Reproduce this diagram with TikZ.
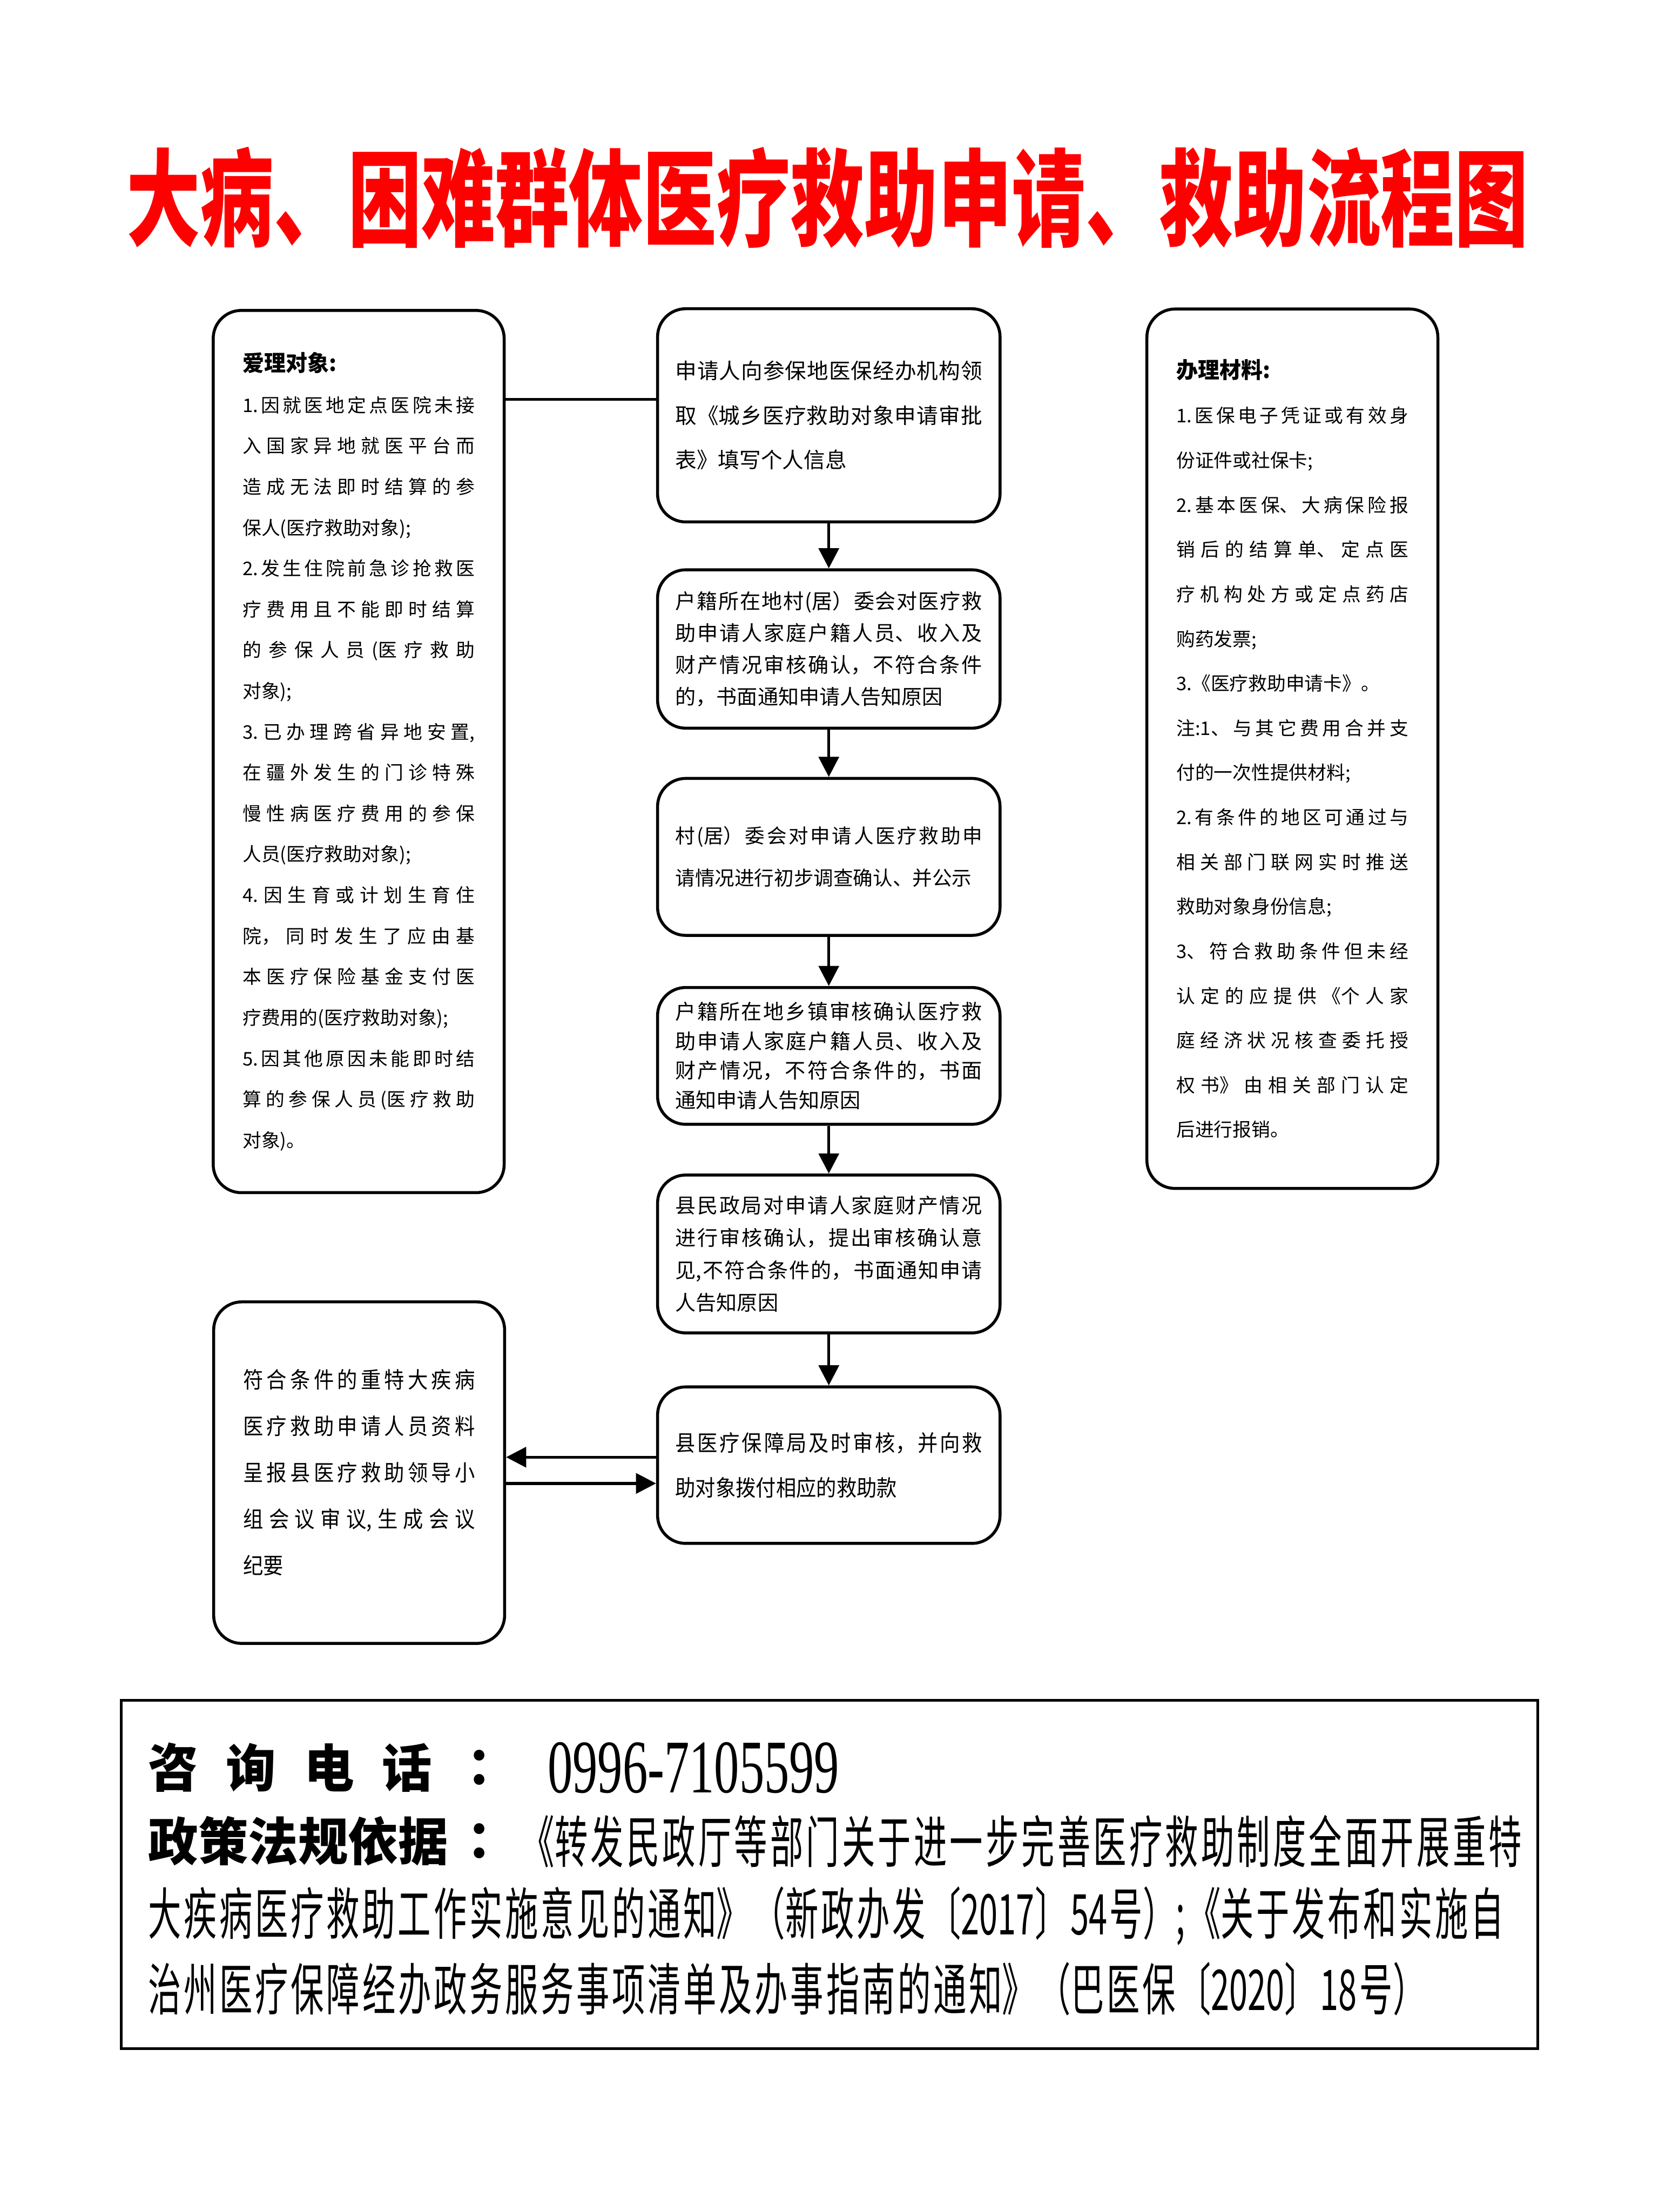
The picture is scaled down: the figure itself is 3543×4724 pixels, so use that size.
\documentclass[tikz,border=0pt]{standalone}
\usepackage{fontspec}
\usetikzlibrary{arrows.meta,calc}
\setmainfont{Noto Sans CJK SC}
\newfontfamily\narrowfont{Noto Sans CJK SC}[FakeStretch=0.9]
\newfontfamily\titlefont{Noto Sans CJK SC}[FakeStretch=0.7]
\newfontfamily\heifont{Noto Sans CJK SC}[FakeStretch=0.97]
\newfontfamily\condfont{Noto Sans CJK SC}[FakeStretch=0.59]
\newfontfamily\numfont{Liberation Serif}[FakeStretch=0.66]
\XeTeXlinebreaklocale "zh"
\XeTeXlinebreakskip=0pt plus 30pt
\setlength{\parindent}{0pt}
\setlength{\parskip}{0pt}

\tikzset{
  flowbox/.style={draw, line width=1.8pt, rounded corners=0.6cm, align=justify, inner xsep=0.38cm, inner ysep=0pt},
  sidebox/.style={flowbox, text width=4.95cm, inner xsep=0.63cm},
  midbox/.style={flowbox, text width=6.55cm, minimum height=3.36cm},
  flowarrow/.style={-{Triangle[length=0.43cm,width=0.43cm]}, line width=1.8pt},
  footline/.style={anchor=west, inner sep=0pt}
}

\begin{document}
\begin{tikzpicture}[x=0.01cm, y=-0.01cm]
        \useasboundingbox (0,0) rectangle (3543,4724);

        % Title
        \node[text=red, font=\titlefont\bfseries\fontsize{64pt}{64pt}\selectfont] (title) at (1767,422) {大病、困难群体医疗救助申请、救助流程图};

        % Side boxes
        \node[sidebox, minimum height=18.83cm, font=\fontsize{11.4pt}{24.8pt}\selectfont] (crit) at (766,1605) {{\heifont\bfseries\fontsize{13.5pt}{24.8pt}\selectfont 爱理对象:}\par
          1.因就医地定点医院未接\linebreak 入国家异地就医平台而\linebreak 造成无法即时结算的参\linebreak 保人(医疗救助对象);\par
          2.发生住院前急诊抢救医\linebreak 疗费用且不能即时结算\linebreak 的参保人员(医疗救助\linebreak 对象);\par
          3.已办理跨省异地安置,\linebreak 在疆外发生的门诊特殊\linebreak 慢性病医疗费用的参保\linebreak 人员(医疗救助对象);\par
          4.因生育或计划生育住\linebreak 院，同时发生了应由基\linebreak 本医疗保险基金支付医\linebreak 疗费用的(医疗救助对象);\par
          5.因其他原因未能即时结\linebreak 算的参保人员(医疗救助\linebreak 对象)。};

        \node[sidebox, minimum height=18.77cm, font=\fontsize{11.4pt}{27.1pt}\selectfont] (docs) at (2760,1599) {{\heifont\bfseries\fontsize{13.5pt}{27.1pt}\selectfont 办理材料:}\par
          1.医保电子凭证或有效身\linebreak 份证件或社保卡;\par
          2.基本医保、大病保险报\linebreak 销后的结算单、定点医\linebreak 疗机构处方或定点药店\linebreak 购药发票;\par
          3.《医疗救助申请卡》。\par
          注:1、与其它费用合并支\linebreak 付的一次性提供材料;\par
          2.有条件的地区可通过与\linebreak 相关部门联网实时推送\linebreak 救助对象身份信息;\par
          3、符合救助条件但未经\linebreak 认定的应提供《个人家\linebreak 庭经济状况核查委托授\linebreak 权书》由相关部门认定\linebreak 后进行报销。};

        \node[sidebox, minimum height=7.29cm, font=\narrowfont\fontsize{13.6pt}{28.2pt}\selectfont] (meeting) at (767,3145) {符合条件的重特大疾病\linebreak 医疗救助申请人员资料\linebreak 呈报县医疗救助领导小\linebreak 组会议审议,生成会议\linebreak 纪要};

        % Main column
        \node[midbox, minimum height=4.55cm, font=\fontsize{13pt}{27pt}\selectfont] (apply) at (1770,887) {申请人向参保地医保经办机构领\linebreak 取《城乡医疗救助对象申请审批\linebreak 表》填写个人信息};
        \node[midbox, minimum height=3.38cm, font=\fontsize{12.5pt}{19.3pt}\selectfont] (village) at (1770,1386) {户籍所在地村(居）委会对医疗救\linebreak 助申请人家庭户籍人员、收入及\linebreak 财产情况审核确认，不符合条件\linebreak 的，书面通知申请人告知原因};
        \node[midbox, minimum height=3.35cm, font=\fontsize{12pt}{25.6pt}\selectfont] (notice) at (1770,1830) {村(居）委会对申请人医疗救助申\linebreak 请情况进行初步调查确认、并公示};
        \node[midbox, minimum height=2.92cm, font=\fontsize{12.5pt}{17.9pt}\selectfont] (town) at (1770,2255) {户籍所在地乡镇审核确认医疗救\linebreak 助申请人家庭户籍人员、收入及\linebreak 财产情况，不符合条件的，书面\linebreak 通知申请人告知原因};
        \node[midbox, minimum height=3.37cm, font=\fontsize{12.5pt}{19.6pt}\selectfont] (civil) at (1770,2678) {县民政局对申请人家庭财产情况\linebreak 进行审核确认，提出审核确认意\linebreak 见,不符合条件的，书面通知申请\linebreak 人告知原因};
        \node[midbox, minimum height=3.34cm, font=\narrowfont\fontsize{13.6pt}{27.3pt}\selectfont] (bureau) at (1770,3129) {县医疗保障局及时审核，并向救\linebreak 助对象拨付相应的救助款};

        % Connectors
        \coordinate (tie) at (0,853);
        \coordinate (backrow) at (0,3112);
        \coordinate (fwdrow) at (0,3168);
        \draw[line width=1.8pt] (crit.east |- tie) -- (apply.west |- tie);
        \draw[flowarrow] (apply) -- (village);
        \draw[flowarrow] (village) -- (notice);
        \draw[flowarrow] (notice) -- (town);
        \draw[flowarrow] (town) -- (civil);
        \draw[flowarrow] (civil) -- (bureau);
        \draw[flowarrow] (bureau.west |- backrow) -- (meeting.east |- backrow);
        \draw[flowarrow] (meeting.east |- fwdrow) -- (bureau.west |- fwdrow);

        % Footer
        \draw[line width=1.8pt] (259,3631) rectangle (3284,4375);
        \node[footline, font=\heifont\bfseries\fontsize{31.3pt}{31.3pt}\selectfont] (phonelabel) at (316,3775) {咨\hspace{17pt}询\hspace{17pt}电\hspace{17pt}话};
        \node[inner sep=0pt, font=\heifont\bfseries\fontsize{31.3pt}{31.3pt}\selectfont] (phonecolon) at (1050,3775) {：};
        \node[footline, font=\numfont\fontsize{46pt}{46pt}\selectfont] (phone) at (1169,3775) {0996-7105599};
        \node[footline, font=\heifont\bfseries\fontsize{31.3pt}{31.3pt}\selectfont] (lawlabel) at (316,3932) {政策法规依据};
        \node[inner sep=0pt, font=\heifont\bfseries\fontsize{31.3pt}{31.3pt}\selectfont] (lawcolon) at (1050,3932) {：};
        \node[footline, text width=21.35cm, align=justify, font=\condfont\fontsize{34.1pt}{34.1pt}\selectfont] (law1) at (1113,3932) {\parfillskip=0pt 《转发民政厅等部门关于进一步完善医疗救助制度全面开展重特\par};
        \node[footline, text width=28.93cm, align=justify, font=\condfont\fontsize{34.1pt}{34.1pt}\selectfont] (law2) at (316,4092) {\parfillskip=0pt 大疾病医疗救助工作实施意见的通知》（新政办发〔2017〕54号）;《关于发布和实施自\par};
        \node[footline, text width=27.27cm, align=justify, font=\condfont\fontsize{34.1pt}{34.1pt}\selectfont] (law3) at (316,4248) {\parfillskip=0pt 治州医疗保障经办政务服务事项清单及办事指南的通知》（巴医保〔2020〕18号）\par};

\end{tikzpicture}
\end{document}
